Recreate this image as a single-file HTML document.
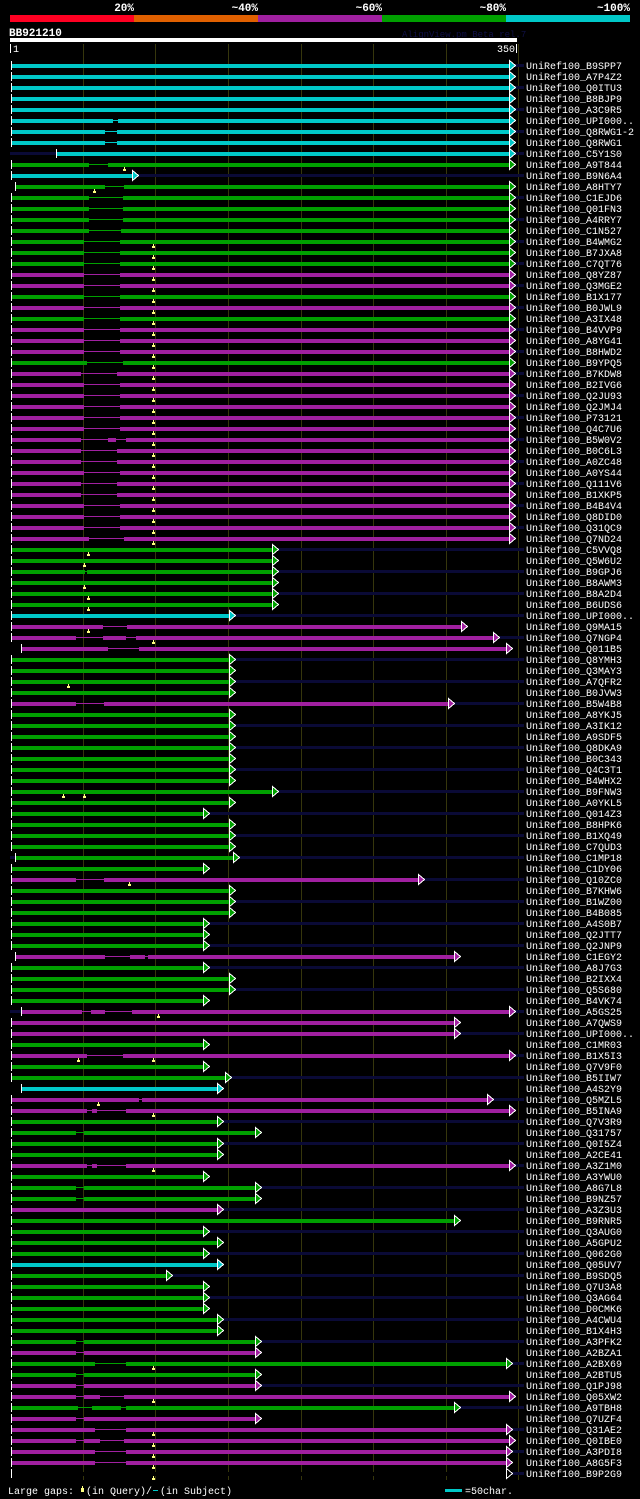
<!DOCTYPE html>
<html><head><meta charset="utf-8"><style>
html,body{margin:0;padding:0;background:#000;}
svg{display:block;}
text{font-family:"Liberation Mono",monospace;}
rect,polygon{shape-rendering:crispEdges;}
</style></head><body>
<svg id="chart" width="640" height="1499" viewBox="0 0 640 1499" xmlns="http://www.w3.org/2000/svg">
<rect x="0" y="0" width="640" height="1499" fill="#000"/>
<g>
<rect x="10" y="15" width="124" height="7" fill="#ff0022"/>
<rect x="134" y="15" width="124" height="7" fill="#e06000"/>
<rect x="258" y="15" width="124" height="7" fill="#a020a0"/>
<rect x="382" y="15" width="124" height="7" fill="#00a000"/>
<rect x="506" y="15" width="124" height="7" fill="#00c8c8"/>
<g fill="#fff" font-weight="bold" font-size="11" text-anchor="end">
<text x="134" y="11">20%</text>
<text x="258" y="11">~40%</text>
<text x="382" y="11">~60%</text>
<text x="506" y="11">~80%</text>
<text x="630" y="11">~100%</text>
</g></g>
<text x="9" y="36" fill="#fff" font-weight="bold" font-size="11">BB921210</text>
<text x="402" y="37" fill="#101048" font-size="9">AlignView.pm Beta rel.7</text>
<rect x="10" y="38" width="507" height="4" fill="#fff"/>
<g id="grid"></g>
<g>
<rect x="10" y="44" width="1" height="9" fill="#fff"/>
<text x="13" y="52" fill="#fff" font-size="10">1</text>
<rect x="516" y="44" width="1" height="9" fill="#fff"/>
<text x="515" y="52" fill="#fff" font-size="10" text-anchor="end">350</text>
</g>
<g id="rows"></g>
<g>
<text x="8" y="1494" fill="#fff" font-size="10">Large gaps:</text>
<rect x="82" y="1486" width="1" height="3" fill="#ffff80"/>
<rect x="81" y="1488" width="3" height="4" fill="#ffff80"/>
<text x="86" y="1494" fill="#fff" font-size="10">(in Query)/</text>
<rect x="153" y="1490" width="5" height="1" fill="#00c8c8"/>
<text x="160" y="1494" fill="#fff" font-size="10">(in Subject)</text>
<rect x="445" y="1489" width="17" height="3" fill="#00c8c8"/>
<text x="465" y="1494" fill="#fff" font-size="10">=50char.</text>
</g>
</svg>
<script>
const names=["B9SPP7","A7P4Z2","Q0ITU3","B8BJP9","A3C9R5","UPI000..","Q8RWG1-2","Q8RWG1","C5Y1S0","A9T844","B9N6A4","A8HTY7","C1EJD6","Q01FN3","A4RRY7","C1N527","B4WMG2","B7JXA8","C7QT76","Q8YZ87","Q3MGE2","B1X177","B0JWL9","A3IX48","B4VVP9","A8YG41","B8HWD2","B9YPQ5","B7KDW8","B2IVG6","Q2JU93","Q2JMJ4","P73121","Q4C7U6","B5W0V2","B0C6L3","A0ZC48","A0YS44","Q111V6","B1XKP5","B4B4V4","Q8DID0","Q31QC9","Q7ND24","C5VVQ8","Q5W6U2","B9GPJ6","B8AWM3","B8A2D4","B6UDS6","UPI000..","Q9MA15","Q7NGP4","Q011B5","Q8YMH3","Q3MAY3","A7QFR2","B0JVW3","B5W4B8","A8YKJ5","A3IK12","A9SDF5","Q8DKA9","B0C343","Q4C3T1","B4WHX2","B9FNW3","A0YKL5","Q014Z3","B8HPK6","B1XQ49","C7QUD3","C1MP18","C1DY06","Q10ZC0","B7KHW6","B1WZ00","B4B085","A4S0B7","Q2JTT7","Q2JNP9","C1EGY2","A8J7G3","B2IXX4","Q5S680","B4VK74","A5GS25","A7QWS9","UPI000..","C1MR03","B1X5I3","Q7V9F0","B5IIW7","A4S2Y9","Q5MZL5","B5INA9","Q7V3R9","Q31757","Q0I5Z4","A2CE41","A3Z1M0","A3YWU0","A8G7L8","B9NZ57","A3Z3U3","B9RNR5","Q3AUG0","A5GPU2","Q062G0","Q05UV7","B9SDQ5","Q7U3A8","Q3AG64","D0CMK6","A4CWU4","B1X4H3","A3PFK2","A2BZA1","A2BX69","A2BTU5","Q1PJ98","Q05XW2","A9TBH8","Q7UZF4","Q31AE2","Q0IBE0","A3PDI8","A8G5F3","B9P2G9"];
const colorCodes="cccccccccgcggggggggmmgmgmmmgmmmmmmmmmmmmmmmmggggggcmmmggggmgggggggggggggggmggggggmggggmmmgmggcmmggggmgggmggggcgggggggmggmmgmmmmm";
const starts=[1,1,1,1,1,1,1,1,32,1,1,4,1,1,1,1,1,1,1,1,1,1,1,1,1,1,1,1,1,1,1,1,1,1,1,1,1,1,1,1,1,1,1,1,1,1,1,1,1,1,1,1,1,8,1,1,1,1,1,1,1,1,1,1,1,1,1,1,1,1,1,1,4,1,1,1,1,1,1,1,1,4,1,1,1,1,8,1,1,1,1,1,1,8,1,1,1,1,1,1,1,1,1,1,1,1,1,1,1,1,1,1,1,1,1,1,1,1,1,1,1,1,1,1,1,1,1,1,1];
const ends=[344,344,344,344,344,344,344,344,344,344,84,344,344,344,344,344,344,344,344,344,344,344,344,344,344,344,344,344,344,344,344,344,344,344,344,344,344,344,344,344,344,344,344,344,181,181,181,181,181,181,151,311,333,342,151,151,151,151,302,151,151,151,151,151,151,151,181,151,133,151,151,151,154,133,281,151,151,151,133,133,133,306,133,151,151,133,344,306,306,133,344,133,148,143,329,344,143,169,143,143,344,133,169,169,143,306,133,143,133,143,108,133,133,133,143,143,169,169,342,169,169,344,306,169,342,344,342,342,342];
const gaps=[[],[],[],[],[],[[71,75]],[[66,74]],[[66,74]],[],[[55,68]],[],[[66,79]],[[55,78]],[[55,78]],[[55,78]],[[55,77]],[[51,76]],[[51,76]],[[51,76]],[[51,76]],[[51,76]],[[51,76]],[[51,76]],[[51,76]],[[51,76]],[[51,76]],[[51,76]],[[53,78]],[[49,74]],[[51,76]],[[51,76]],[[51,76]],[[51,76]],[[51,76]],[[49,68],[73,80]],[[49,74]],[[49,74]],[[51,76]],[[49,74]],[[49,74]],[[51,76]],[[51,76]],[[51,76]],[[55,79]],[],[],[[52,53]],[],[],[],[],[[64,81]],[[46,64],[80,87]],[[68,89]],[],[],[],[],[[46,65]],[],[],[],[],[],[],[],[],[],[],[],[],[],[],[],[[46,65]],[],[],[],[],[],[],[[66,83],[93,95]],[],[],[],[],[[50,56],[66,84]],[],[],[],[[53,78]],[],[],[],[[89,91]],[[53,57],[60,80]],[],[[46,51]],[],[],[[53,57],[60,80]],[],[[46,51]],[[46,51]],[],[],[],[],[],[],[],[],[],[],[],[],[[46,51]],[[46,51]],[[59,80]],[[46,51]],[[46,51]],[[46,51],[62,79]],[[47,57],[77,80]],[[46,51]],[[59,80]],[[46,51],[62,79]],[[59,80]],[[59,80]],[[59,80]]];
const markers=[[],[],[],[],[],[],[],[],[],[79],[],[58],[],[],[],[],[99],[99],[99],[99],[99],[99],[99],[99],[99],[99],[99],[99],[99],[99],[99],[99],[99],[99],[99],[99],[99],[99],[99],[99],[99],[99],[99],[99],[54],[51],[],[51],[54],[54],[],[54],[99],[],[],[],[40],[],[],[],[],[],[],[],[],[],[37,51],[],[],[],[],[],[],[],[82],[],[],[],[],[],[],[],[],[],[],[],[102],[],[],[],[47,99],[],[],[],[61],[99],[],[],[],[],[99],[],[],[],[],[],[],[],[],[],[],[],[],[],[],[],[],[],[99],[],[],[99],[],[],[99],[99],[99],[99],[99]];
const gridTicks=[50,100,150,200,250,300,350];
const colorMap={c:"#00c8c8",g:"#00a000",m:"#a020a0"};
const NS="http://www.w3.org/2000/svg";
function xPos(r){return Math.round(11+(r-1)*1.4527);}
function yPos(i){return 65+i*11;}
function mk(tag,attrs,parent){const e=document.createElementNS(NS,tag);for(const k in attrs)e.setAttribute(k,attrs[k]);parent.appendChild(e);return e;}
const grid=document.getElementById('grid');
gridTicks.forEach(t=>{
  const l=mk('rect',{x:xPos(t+1)-1,y:44,width:1,height:1436,fill:'#36360c'},grid);
  
  
});
const rows=document.getElementById('rows');
names.forEach((nm,i)=>{
  const y=yPos(i);
  const col=colorMap[colorCodes[i]];
  const x0=xPos(starts[i]),x1=xPos(ends[i]);
  const g=mk('g',{},rows);
  
  
  if(i%2===0){
    if(x0>11){
      const n0=mk('rect',{x:10,y:y-1,width:x0-10,height:3,fill:'#0a0a36'},g);
      
      
    }
    const n=mk('rect',{x:x1,y:y-1,width:Math.max(0,524-x1),height:3,fill:'#0a0a36'},g);
    
    
  }
  const thin=mk('rect',{x:x0,y:y,width:x1-x0,height:1,fill:col},g);
  
  
  let segs=[];let cur=starts[i];
  gaps[i].forEach(gp=>{segs.push([cur,gp[0]]);cur=gp[1];});
  segs.push([cur,ends[i]]);
  segs.forEach(s=>{
    const b=mk('rect',{x:xPos(s[0]),y:y-1,width:Math.max(0,xPos(s[1])-xPos(s[0])),height:4,fill:col},g);
    
    
  });
  const tk=mk('rect',{x:x0,y:y-4,width:1,height:9,fill:'#fff'},g);
  
  
  const ar=mk('polygon',{points:`${x1+0.5},${y-4.5} ${x1+6.5},${y+0.5} ${x1+0.5},${y+5.5}`,fill:col,stroke:'#fff','stroke-width':1},g);
  
  
  markers[i].forEach(m=>{
    const mx=xPos(m);
    const s=mk('rect',{x:mx,y:y+3,width:1,height:2,fill:'#ffff80'},g);
    
    
    const bx=mk('rect',{x:mx-1,y:y+5,width:3,height:2,fill:'#ffff80'},g);
    
    
  });
  const t=mk('text',{x:526,y:y+4,fill:'#fff','font-size':10},g);
  t.textContent='UniRef100_'+nm;
  
  
});
</script>
</body></html>
